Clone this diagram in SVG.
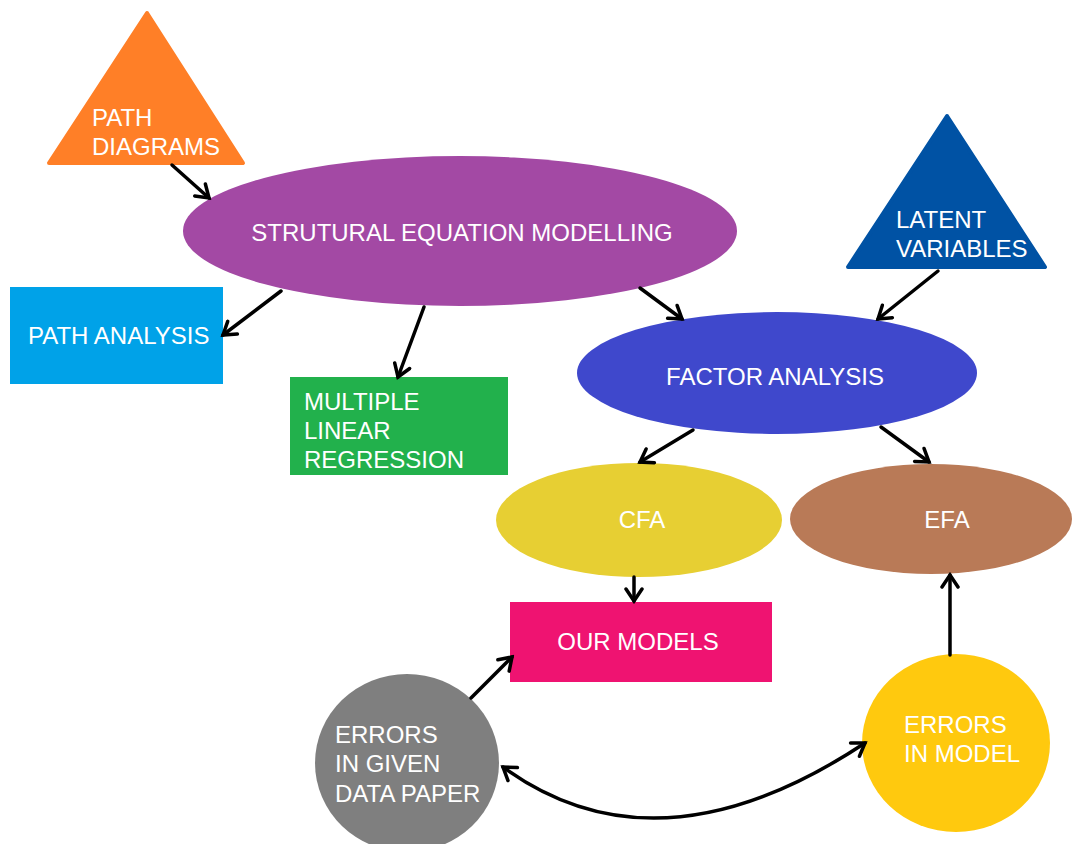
<svg xmlns="http://www.w3.org/2000/svg" width="1075" height="844" viewBox="0 0 1075 844">
<defs>
<style>
.t{font-family:"Liberation Sans",Arial,sans-serif;font-size:24px;fill:#ffffff}
.m{text-anchor:middle}
.c{stroke:#000;stroke-width:3.5;fill:none;stroke-linecap:round}
</style>
<marker id="ah" viewBox="-15 -10 18 20" refX="0" refY="0" markerWidth="18" markerHeight="20" markerUnits="userSpaceOnUse" orient="auto-start-reverse">
<path d="M-12,-8 L0,0 L-12,8" fill="none" stroke="#000" stroke-width="3.5" stroke-linecap="round" stroke-linejoin="miter"/>
</marker>
</defs>
<rect width="1075" height="844" fill="#ffffff"/>
<g id="path-diagrams">
<polygon points="147,13 243,163 49,163" fill="#ff7f27" stroke="#ff7f27" stroke-width="4" stroke-linejoin="round"/>
<text class="t" x="92" y="126">PATH</text>
<text class="t" x="92" y="155">DIAGRAMS</text>
</g>
<g id="sem">
<ellipse cx="460" cy="231" rx="277" ry="75" fill="#a349a4"/>
<text class="t m" x="462" y="241">STRUTURAL EQUATION MODELLING</text>
</g>
<g id="path-analysis">
<rect x="10" y="287" width="213" height="97" fill="#00a2e8"/>
<text class="t" x="28" y="344">PATH ANALYSIS</text>
</g>
<g id="mlr">
<rect x="290" y="377" width="218" height="98" fill="#22b14c"/>
<text class="t" x="304" y="410">MULTIPLE</text>
<text class="t" x="304" y="439">LINEAR</text>
<text class="t" x="304" y="468">REGRESSION</text>
</g>
<g id="latent-variables">
<polygon points="947,116 1045,267 848,267" fill="#0052a4" stroke="#0052a4" stroke-width="4" stroke-linejoin="round"/>
<text class="t" x="896" y="228">LATENT</text>
<text class="t" x="896" y="257">VARIABLES</text>
</g>
<g id="factor-analysis">
<ellipse cx="777" cy="373" rx="200" ry="61" fill="#3f48cc"/>
<text class="t m" x="775" y="385">FACTOR ANALYSIS</text>
</g>
<g id="cfa">
<ellipse cx="639" cy="520" rx="143" ry="57" fill="#e7cf33"/>
<text class="t m" x="642" y="528">CFA</text>
</g>
<g id="efa">
<ellipse cx="931" cy="519" rx="141" ry="55" fill="#b97a57"/>
<text class="t m" x="947" y="528">EFA</text>
</g>
<g id="our-models">
<rect x="510" y="602" width="262" height="80" fill="#ef1371"/>
<text class="t m" x="638" y="650">OUR MODELS</text>
</g>
<g id="errors-data">
<ellipse cx="407" cy="763" rx="92" ry="89" fill="#7f7f7f"/>
<text class="t" x="335" y="743">ERRORS</text>
<text class="t" x="335" y="772">IN GIVEN</text>
<text class="t" x="335" y="802">DATA PAPER</text>
</g>
<g id="errors-model">
<ellipse cx="956" cy="743" rx="94" ry="89" fill="#ffc90e"/>
<text class="t" x="904" y="733">ERRORS</text>
<text class="t" x="904" y="762">IN MODEL</text>
</g>
<g id="connectors">
<line class="c" x1="172" y1="165" x2="209" y2="198" marker-end="url(#ah)"/>
<line class="c" x1="281" y1="291" x2="223" y2="335" marker-end="url(#ah)"/>
<line class="c" x1="424" y1="307" x2="398" y2="377" marker-end="url(#ah)"/>
<line class="c" x1="640" y1="288" x2="682" y2="319" marker-end="url(#ah)"/>
<line class="c" x1="938" y1="271" x2="878" y2="319" marker-end="url(#ah)"/>
<line class="c" x1="693" y1="430" x2="640" y2="462" marker-end="url(#ah)"/>
<line class="c" x1="881" y1="427" x2="929" y2="462" marker-end="url(#ah)"/>
<line class="c" x1="634" y1="577" x2="634" y2="601" marker-end="url(#ah)"/>
<line class="c" x1="950" y1="655" x2="950" y2="575" marker-end="url(#ah)"/>
<line class="c" x1="471" y1="698" x2="512" y2="657" marker-end="url(#ah)"/>
<path class="c" d="M503,767 Q658,880 865,743" marker-start="url(#ah)" marker-end="url(#ah)"/>
</g>
</svg>
